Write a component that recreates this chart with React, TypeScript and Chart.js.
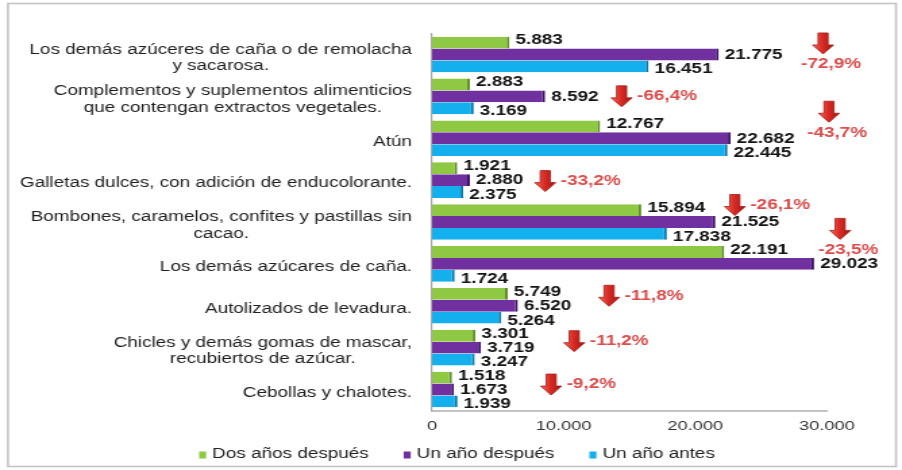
import { useEffect, useRef } from "react";
import { Chart, registerables } from "chart.js";

Chart.register(...registerables);

// ---------- data ----------
const categories: string[][] = [
  ["Los demás azúceres de caña o de remolacha", "y sacarosa."],
  ["Complementos y suplementos alimenticios", "que contengan extractos vegetales."],
  ["Atún"],
  ["Galletas dulces, con adición de enducolorante."],
  ["Bombones, caramelos, confites y pastillas sin", "cacao."],
  ["Los demás azúcares de caña."],
  ["Autolizados de levadura."],
  ["Chicles y demás gomas de mascar,", "recubiertos de azúcar."],
  ["Cebollas y chalotes."],
];
const seriesNames = ["Dos años después", "Un año después", "Un año antes"];
const dosAnosDespues = [5883, 2883, 12767, 1921, 15894, 22191, 5749, 3301, 1518];
const unAnoDespues = [21775, 8592, 22682, 2880, 21525, 29023, 6520, 3719, 1673];
const unAnoAntes = [16451, 3169, 22445, 2375, 17838, 1724, 5264, 3247, 1939];
const variation = ["-72,9%", "-66,4%", "-43,7%", "-33,2%", "-26,1%", "-23,5%", "-11,8%", "-11,2%", "-9,2%"];
const xTickValues = [0, 10000, 20000, 30000];

// ---------- styling / layout (not data) ----------
const seriesColors = ["#8fc843", "#7030a0", "#14b0ee"];
const seriesEdge = ["#5f8f26", "#3f1566", "#0a78a8"];
// callout placement: arrow centre in axis units, vertical offset from category centre (px), stacked text below arrow
const calloutLayout = [
  { at: 29700, dy: -11, stacked: true },
  { at: 14400, dy: 0, stacked: false },
  { at: 30150, dy: -26.5, stacked: true },
  { at: 8600, dy: 1, stacked: false },
  { at: 23000, dy: -17, stacked: false },
  { at: 31000, dy: -35, stacked: true },
  { at: 13450, dy: -10, stacked: false },
  { at: 10800, dy: -6.5, stacked: false },
  { at: 9050, dy: -5, stacked: false },
];

const W = 668;
const H = 470;
const S = 902 / W; // horizontal stretch of the picture
const FONT = "'Liberation Sans', Arial, Helvetica, sans-serif";

function fmt(v: number): string {
  return String(Math.round(v)).replace(/\B(?=(\d{3})+(?!\d))/g, ".");
}

const backgroundPlugin = {
  id: "bgBox",
  beforeDraw(chart: any) {
    const ctx = chart.ctx;
    ctx.save();
    ctx.fillStyle = "#ffffff";
    ctx.fillRect(0, 0, W, H);
    ctx.strokeStyle = "#c4c4c4";
    ctx.lineWidth = 1.6;
    ctx.strokeRect(8 / S, 3.5, (896 - 8) / S, 463);
    ctx.restore();
  },
};

const categoryLabelPlugin = {
  id: "catLabels",
  afterDraw(chart: any) {
    const ctx = chart.ctx;
    const y = chart.scales.y;
    const right = 412 / S;
    const lh = 16.5;
    ctx.save();
    ctx.font = `14px ${FONT}`;
    ctx.fillStyle = "#1e1e1e";
    ctx.textAlign = "center";
    ctx.textBaseline = "middle";
    categories.forEach((lines, i) => {
      const cy = y.getPixelForValue(i) + 3.5;
      const maxW = Math.max(...lines.map((l) => ctx.measureText(l).width));
      const cx = right - maxW / 2;
      const start = cy - ((lines.length - 1) * lh) / 2;
      lines.forEach((l, k) => ctx.fillText(l, cx, start + k * lh));
    });
    ctx.restore();
  },
};

const valueLabelPlugin = {
  id: "valueLabels",
  afterDatasetsDraw(chart: any) {
    const ctx = chart.ctx;
    ctx.save();
    ctx.font = `bold 14px ${FONT}`;
    ctx.fillStyle = "#141414";
    ctx.textAlign = "left";
    ctx.textBaseline = "middle";
    chart.data.datasets.forEach((ds: any, di: number) => {
      const meta = chart.getDatasetMeta(di);
      meta.data.forEach((bar: any, i: number) => {
        const p = bar.getProps(["x", "y"], true);
        ctx.fillText(fmt(ds.data[i]), p.x + 4.5, p.y + (di - 1) * 2.5 + 0.5);
      });
    });
    ctx.restore();
  },
};

function drawArrow(ctx: CanvasRenderingContext2D, cx: number, top: number) {
  const shaftHalf = 5 / S;
  const headHalf = 10.5 / S;
  const h = 21;
  const headH = 9;
  ctx.beginPath();
  ctx.moveTo(cx - shaftHalf, top);
  ctx.lineTo(cx + shaftHalf, top);
  ctx.lineTo(cx + shaftHalf, top + h - headH);
  ctx.lineTo(cx + headHalf, top + h - headH);
  ctx.lineTo(cx, top + h);
  ctx.lineTo(cx - headHalf, top + h - headH);
  ctx.lineTo(cx - shaftHalf, top + h - headH);
  ctx.closePath();
  const g = ctx.createLinearGradient(cx - headHalf, 0, cx + headHalf, 0);
  g.addColorStop(0, "#f26a5c");
  g.addColorStop(0.45, "#dc2b25");
  g.addColorStop(1, "#9e1512");
  ctx.fillStyle = g;
  ctx.fill();
  ctx.strokeStyle = "#a3201b";
  ctx.lineWidth = 0.8;
  ctx.stroke();
}

const calloutPlugin = {
  id: "callouts",
  afterDraw(chart: any) {
    const ctx = chart.ctx;
    const xs = chart.scales.x;
    const ys = chart.scales.y;
    ctx.save();
    ctx.font = `bold 14px ${FONT}`;
    ctx.textBaseline = "middle";
    variation.forEach((txt, i) => {
      const lay = calloutLayout[i];
      const cx = xs.getPixelForValue(lay.at);
      const cy = ys.getPixelForValue(i) + lay.dy;
      drawArrow(ctx, cx, cy - 10.5);
      ctx.fillStyle = "#db4c4c";
      if (lay.stacked) {
        ctx.textAlign = "center";
        ctx.fillText(txt, cx + 6, cy + 21);
      } else {
        ctx.textAlign = "left";
        ctx.fillText(txt, cx + 10.5 / S + 5 / S, cy);
      }
    });
    ctx.restore();
  },
};

const legendPlugin = {
  id: "customLegend",
  afterDraw(chart: any) {
    const ctx = chart.ctx;
    ctx.save();
    ctx.font = `14px ${FONT}`;
    ctx.textBaseline = "middle";
    ctx.textAlign = "left";
    const box = 7 / S;
    const boxH = 7;
    const gap = 6 / S;
    const spacing = 35 / S;
    const items = chart.data.datasets.map((ds: any) => ({
      label: ds.label as string,
      color: ds.backgroundColor as string,
      w: box + gap + ctx.measureText(ds.label).width,
    }));
    const total = items.reduce((a: number, it: any) => a + it.w, 0) + spacing * (items.length - 1);
    let x = 457 / S - total / 2;
    const cy = 454;
    items.forEach((it: any) => {
      ctx.fillStyle = it.color;
      ctx.fillRect(x, cy - boxH / 2 + 1, box, boxH);
      ctx.fillStyle = "#222222";
      ctx.fillText(it.label, x + box + gap, cy);
      x += it.w + spacing;
    });
    ctx.restore();
  },
};

export default function App() {
  const canvasRef = useRef<HTMLCanvasElement | null>(null);

  useEffect(() => {
    const canvas = canvasRef.current;
    if (!canvas) return;
    const series = [dosAnosDespues, unAnoDespues, unAnoAntes];
    const chart = new Chart(canvas, {
      type: "bar",
      data: {
        labels: categories.map((c) => c.join(" ")),
        datasets: series.map((data, i) => ({
          label: seriesNames[i],
          data,
          backgroundColor: seriesColors[i],
          borderColor: seriesEdge[i],
          borderWidth: { top: 0, right: 2, bottom: 0, left: 0 },
          borderSkipped: "start",
          categoryPercentage: 0.85,
          barPercentage: 1,
        })),
      },
      options: {
        indexAxis: "y",
        responsive: false,
        animation: false,
        devicePixelRatio: 1,
        layout: { padding: { top: 33.5, right: W - 827 / S, bottom: 27.3, left: 0 } },
        plugins: {
          legend: { display: false },
          tooltip: { enabled: false },
        },
        scales: {
          x: {
            min: 0,
            max: 30000,
            afterBuildTicks: (s: any) => {
              s.ticks = xTickValues.map((v) => ({ value: v }));
            },
            ticks: {
              font: { family: FONT, size: 13.5 },
              color: "#333333",
              padding: 8,
              maxRotation: 0,
              autoSkip: false,
              callback: (v: any) => fmt(Number(v)),
            },
            grid: { display: false, drawTicks: false },
            border: { display: true, color: "#c2c2c2", width: 2 },
          },
          y: {
            ticks: { display: false },
            grid: { display: false, drawTicks: false },
            border: { display: true, color: "#a8a8a8", width: 1.2 },
            afterFit: (s: any) => {
              s.width = 432 / S;
            },
          },
        },
      } as any,
      plugins: [backgroundPlugin, categoryLabelPlugin, valueLabelPlugin, calloutPlugin, legendPlugin],
    });
    return () => chart.destroy();
  }, []);

  return (
    <div style={{ position: "fixed", left: 0, top: 0, width: 902, height: 470, background: "#fff" }}>
      <canvas
        ref={canvasRef}
        width={W}
        height={H}
        style={{ width: "902px", height: "470px", display: "block" }}
      />
    </div>
  );
}
